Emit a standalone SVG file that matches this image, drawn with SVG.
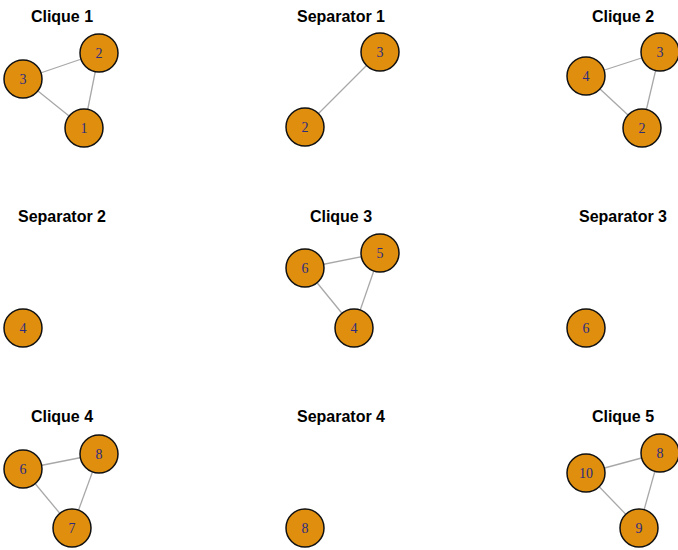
<svg xmlns="http://www.w3.org/2000/svg" width="678" height="550" viewBox="0 0 678 550">
<style>
.t{font-family:"Liberation Sans",Arial,sans-serif;font-weight:bold;font-size:16px;fill:#000;text-anchor:middle}
.n circle{fill:#E08E0E;stroke:#111;stroke-width:1.5}
.n text{font-family:"Liberation Serif","Times New Roman",serif;font-size:14px;fill:#2B2B80;text-anchor:middle;dominant-baseline:central}
.e line{stroke:#A8A8A8;stroke-width:1.3}
</style>
<rect width="678" height="550" fill="#fff"/>
<g id="titles">
<text class="t" x="62" y="21.5">Clique 1</text>
<text class="t" x="341" y="21.5">Separator 1</text>
<text class="t" x="623" y="21.5">Clique 2</text>
<text class="t" x="62" y="221.5">Separator 2</text>
<text class="t" x="341" y="221.5">Clique 3</text>
<text class="t" x="623" y="221.5">Separator 3</text>
<text class="t" x="62" y="421.5">Clique 4</text>
<text class="t" x="341" y="421.5">Separator 4</text>
<text class="t" x="623" y="421.5">Clique 5</text>
</g>
<g id="edges" class="e">
<line x1="99" y1="53" x2="23" y2="79"/>
<line x1="99" y1="53" x2="84" y2="128"/>
<line x1="23" y1="79" x2="84" y2="128"/>
<line x1="380" y1="52" x2="305" y2="127"/>
<line x1="660" y1="52" x2="586" y2="76"/>
<line x1="660" y1="52" x2="642" y2="128"/>
<line x1="586" y1="76" x2="642" y2="128"/>
<line x1="380" y1="253" x2="305" y2="268"/>
<line x1="380" y1="253" x2="354" y2="328"/>
<line x1="305" y1="268" x2="354" y2="328"/>
<line x1="99" y1="454" x2="23" y2="469"/>
<line x1="99" y1="454" x2="72" y2="528"/>
<line x1="23" y1="469" x2="72" y2="528"/>
<line x1="660" y1="453" x2="586" y2="473"/>
<line x1="660" y1="453" x2="639" y2="528"/>
<line x1="586" y1="473" x2="639" y2="528"/>
</g>
<g id="c1-2" class="n"><circle cx="99" cy="53" r="19"/><text x="99" y="53">2</text></g>
<g id="c1-3" class="n"><circle cx="23" cy="79" r="19"/><text x="23" y="79">3</text></g>
<g id="c1-1" class="n"><circle cx="84" cy="128" r="19"/><text x="84" y="128">1</text></g>
<g id="s1-3" class="n"><circle cx="380" cy="52" r="19"/><text x="380" y="52">3</text></g>
<g id="s1-2" class="n"><circle cx="305" cy="127" r="19"/><text x="305" y="127">2</text></g>
<g id="c2-3" class="n"><circle cx="660" cy="52" r="19"/><text x="660" y="52">3</text></g>
<g id="c2-4" class="n"><circle cx="586" cy="76" r="19"/><text x="586" y="76">4</text></g>
<g id="c2-2" class="n"><circle cx="642" cy="128" r="19"/><text x="642" y="128">2</text></g>
<g id="s2-4" class="n"><circle cx="23" cy="328" r="19"/><text x="23" y="328">4</text></g>
<g id="c3-5" class="n"><circle cx="380" cy="253" r="19"/><text x="380" y="253">5</text></g>
<g id="c3-6" class="n"><circle cx="305" cy="268" r="19"/><text x="305" y="268">6</text></g>
<g id="c3-4" class="n"><circle cx="354" cy="328" r="19"/><text x="354" y="328">4</text></g>
<g id="s3-6" class="n"><circle cx="586" cy="328" r="19"/><text x="586" y="328">6</text></g>
<g id="c4-8" class="n"><circle cx="99" cy="454" r="19"/><text x="99" y="454">8</text></g>
<g id="c4-6" class="n"><circle cx="23" cy="469" r="19"/><text x="23" y="469">6</text></g>
<g id="c4-7" class="n"><circle cx="72" cy="528" r="19"/><text x="72" y="528">7</text></g>
<g id="s4-8" class="n"><circle cx="305" cy="528" r="19"/><text x="305" y="528">8</text></g>
<g id="c5-8" class="n"><circle cx="660" cy="453" r="19"/><text x="660" y="453">8</text></g>
<g id="c5-10" class="n"><circle cx="586" cy="473" r="19"/><text x="586" y="473">10</text></g>
<g id="c5-9" class="n"><circle cx="639" cy="528" r="19"/><text x="639" y="528">9</text></g>
</svg>
